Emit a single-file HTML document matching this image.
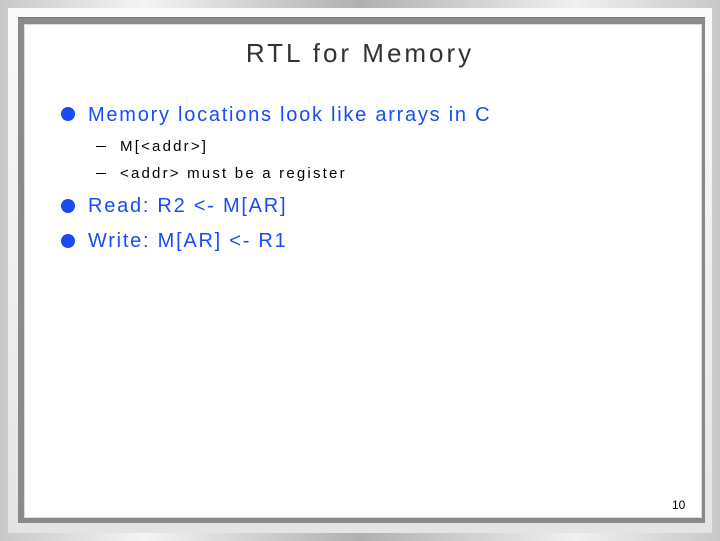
<!DOCTYPE html>
<html><head><style>
html,body{margin:0;padding:0}
body{width:720px;height:541px;position:relative;overflow:hidden;background:linear-gradient(90deg,#c8c8c8,#f4f4f4 20%,#b0b0b0 50%,#f0f0f0 80%,#c8c8c8);font-family:"Liberation Sans",Arial,sans-serif}
.panel{position:absolute;left:8px;top:8px;width:704px;height:525px;background:linear-gradient(180deg,#fafafa,#e4e4e4);}
.frame{position:absolute;left:18px;top:17px;width:687px;height:505px;background:#8a8a8a;border-top:1px solid #777;}
.inner{position:absolute;left:24px;top:24px;width:676px;height:492px;background:#fff;border:1px solid #ddd;}
.t{position:absolute;white-space:nowrap}
.title{left:0;width:720px;text-align:center;top:38px;font-size:26px;letter-spacing:3px;color:#333}
.b{font-size:20px;letter-spacing:1.75px;color:#1a4cf5;left:88px}
.dot{position:absolute;width:14px;height:14px;border-radius:50%;background:#1a4cf5;left:61px}
.s{font-size:15px;letter-spacing:2.2px;color:#000;left:120px}
.dash{position:absolute;left:96px;width:10px;height:1px;background:#000}
</style></head><body>
<div class="panel"></div>
<div class="frame"></div>
<div class="inner"></div>
<div class="t title">RTL for Memory</div>
<div class="dot" style="top:107px"></div>
<div class="t b" style="top:104px">Memory locations look like arrays in C</div>
<div class="dash" style="top:146px"></div>
<div class="t s" style="top:138px">M[&lt;addr&gt;]</div>
<div class="dash" style="top:173px"></div>
<div class="t s" style="top:165px">&lt;addr&gt; must be a register</div>
<div class="dot" style="top:199px"></div>
<div class="t b" style="top:195px">Read: R2 &lt;- M[AR]</div>
<div class="dot" style="top:234px"></div>
<div class="t b" style="top:230px">Write: M[AR] &lt;- R1</div>
<div class="t" style="left:672px;top:498px;font-size:12px;color:#000">10</div>
</body></html>
